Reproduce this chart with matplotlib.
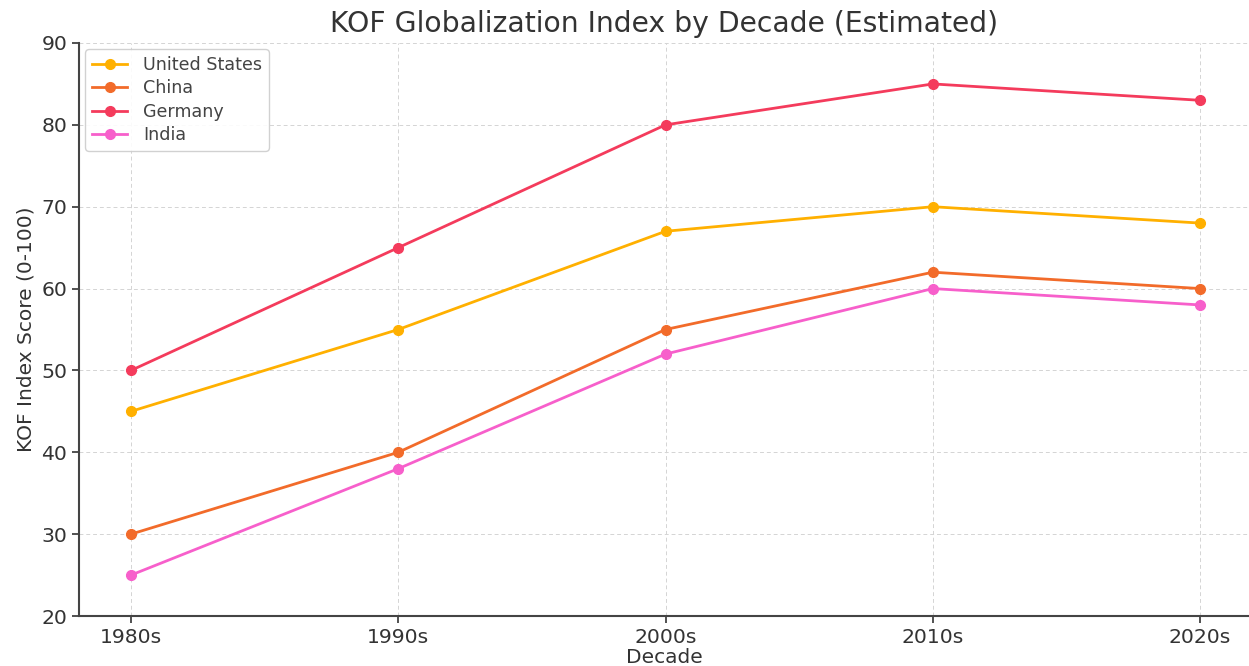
import matplotlib
matplotlib.use("Agg")
import matplotlib.pyplot as plt

decades = ["1980s", "1990s", "2000s", "2010s", "2020s"]
united_states = [45, 55, 67, 70, 68]
china = [30, 40, 55, 62, 60]
germany = [50, 65, 80, 85, 83]
india = [25, 38, 52, 60, 58]

series = [
    ("United States", united_states, "#FFB000"),
    ("China", china, "#F26B2A"),
    ("Germany", germany, "#F43B5C"),
    ("India", india, "#F75FCB"),
]

plt.rcParams['font.family'] = ['DejaVu Sans']
fig = plt.figure(figsize=(12.49, 6.66), dpi=100)
ax = fig.add_axes([79/1249, 50/666, 1170/1249, 573/666])

x = list(range(len(decades)))
for name, vals, col in series:
    ax.plot(x, vals, marker="o", color=col, linewidth=2, markersize=7, label=name)

ax.set_xticks(x)
ax.set_xticklabels(decades)
ax.set_xlim(-0.1946, 4.183)
ax.set_ylim(20, 90)
ax.set_yticks(range(20, 91, 10))
ax.grid(True, linestyle=(0, (4, 3)), color="#d4d4d4", linewidth=0.7)
ax.set_axisbelow(True)
for s in ["top", "right"]:
    ax.spines[s].set_visible(False)
for s in ["left", "bottom"]:
    ax.spines[s].set_color("#444444")
    ax.spines[s].set_linewidth(1.5)
ax.tick_params(labelsize=14.7, colors="#333333", length=5, width=1.2)
ax.set_xlabel("Decade", fontsize=14.5, color="#333333", labelpad=1)
ax.set_ylabel("KOF Index Score (0-100)", fontsize=14.5, color="#333333")
ax.set_title("KOF Globalization Index by Decade (Estimated)", fontsize=20.3, color="#333333", pad=8)
leg = ax.legend(loc="upper left", fontsize=12.6, framealpha=0.9, edgecolor="#cccccc",
                labelspacing=0.3, borderaxespad=0.35, handletextpad=0.9)
for t in leg.get_texts():
    t.set_color("#444444")

fig.savefig("out.png", dpi=100)
